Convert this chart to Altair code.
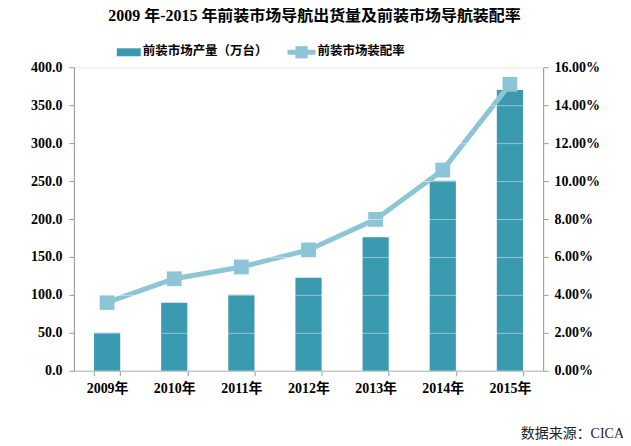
import altair as alt
import pandas as pd

years = ["2009年", "2010年", "2011年", "2012年", "2013年", "2014年", "2015年"]
output = [50.0, 89.5, 100.3, 122.5, 176.0, 250.5, 370.0]
rate = [0.0360, 0.0485, 0.0547, 0.0637, 0.0798, 0.1058, 0.1510]

bar_name = "前装市场产量（万台）"
line_name = "前装市场装配率"
title_text = "2009 年-2015 年前装市场导航出货量及前装市场导航装配率"
source_text = "数据来源：CICA"

BAR_COLOR = "#3A9AAF"
LINE_COLOR = "#8CC6D6"
SERIF = "Liberation Serif, Times New Roman, Noto Sans CJK SC"

df = pd.DataFrame({"year": years, "output": output, "rate": rate})

W, H = 470, 304

x = alt.X("year:N", sort=years, title=None,
          scale=alt.Scale(paddingInner=0.61, paddingOuter=0.3),
          axis=alt.Axis(labelAngle=0, tickBand="extent", labelFont=SERIF, labelFontSize=14,
                        labelFontWeight="bold", labelColor="#000", domainColor="#999",
                        tickColor="#999", tickSize=5, labelPadding=6, grid=False))

bars = alt.Chart(df).mark_bar(color=BAR_COLOR).encode(
    x=x,
    y=alt.Y("output:Q", title=None,
            scale=alt.Scale(domain=[0, 400], nice=False),
            axis=alt.Axis(values=[0, 50, 100, 150, 200, 250, 300, 350, 400], format=".1f",
                          labelFont=SERIF, labelFontSize=14, labelFontWeight="bold",
                          labelColor="#000", domainColor="#999", tickColor="#999",
                          tickSize=5, labelPadding=7, grid=True, gridColor="#ffffff",
                          gridOpacity=0.45, zindex=1)),
)

line = alt.Chart(df).mark_line(color=LINE_COLOR, strokeWidth=5).encode(
    x=alt.X("year:N", sort=years),
    y=alt.Y("rate:Q", title=None,
            scale=alt.Scale(domain=[0, 0.16], nice=False),
            axis=alt.Axis(orient="right", values=[0, 0.02, 0.04, 0.06, 0.08, 0.10, 0.12, 0.14, 0.16],
                          format=".2%", labelFont=SERIF, labelFontSize=14, labelFontWeight="bold",
                          labelColor="#000", domainColor="#999", tickColor="#999",
                          tickSize=5, labelPadding=6, grid=False)),
)
pts = alt.Chart(df).mark_square(color=LINE_COLOR, opacity=1, size=220, cornerRadius=2).encode(
    x=alt.X("year:N", sort=years),
    y=alt.Y("rate:Q", scale=alt.Scale(domain=[0, 0.16], nice=False), axis=None),
)

# title, legend and source note
leg = pd.DataFrame({"a": [0]})
ttl = alt.Chart(leg).mark_text(text=title_text, align="center", baseline="middle",
                               font=SERIF, fontSize=16, fontWeight="bold", color="#000",
                               clip=False).encode(x=alt.value(241), y=alt.value(-51))
leg_bar = alt.Chart(leg).mark_rect(color=BAR_COLOR, clip=False).encode(
    x=alt.value(43), x2=alt.value(67), y=alt.value(-19), y2=alt.value(-11))
leg_bar_t = alt.Chart(leg).mark_text(text=bar_name, align="left", baseline="middle",
                                      font=SERIF, fontSize=12.5, fontWeight="bold", clip=False).encode(
    x=alt.value(69), y=alt.value(-16))
leg_line = alt.Chart(leg).mark_rule(color=LINE_COLOR, strokeWidth=5, clip=False).encode(
    x=alt.value(214), x2=alt.value(242), y=alt.value(-15))
leg_sq = alt.Chart(leg).mark_square(color=LINE_COLOR, opacity=1, size=150, clip=False).encode(
    x=alt.value(228), y=alt.value(-15))
leg_line_t = alt.Chart(leg).mark_text(text=line_name, align="left", baseline="middle",
                                       font=SERIF, fontSize=12.5, fontWeight="bold", clip=False).encode(
    x=alt.value(244), y=alt.value(-16))
src = alt.Chart(leg).mark_text(text=source_text, align="right", baseline="middle",
                               font=SERIF, fontSize=14, color="#222", clip=False).encode(
    x=alt.value(551), y=alt.value(367))

chart = alt.layer(bars, line, pts, ttl, leg_bar, leg_bar_t, leg_line, leg_sq, leg_line_t, src).resolve_scale(
    y="independent"
).properties(
    width=W, height=H,
    autosize=alt.AutoSizeParams(type="none"),
    padding={"left": 66, "top": 59, "right": 80, "bottom": 75},
).configure_view(stroke=None).configure(background="white")

chart.save("out.html", embed_options={"renderer": "svg", "actions": False})
